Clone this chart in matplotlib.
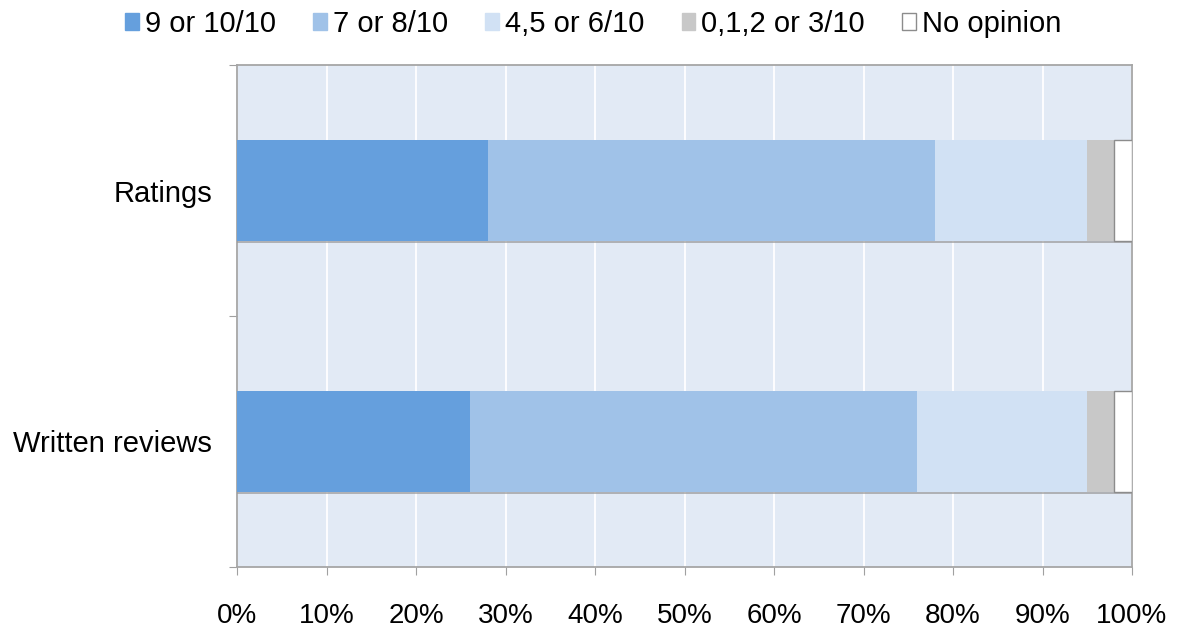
import matplotlib
matplotlib.use("Agg")
import matplotlib.pyplot as plt
import matplotlib.patheffects as pe
from matplotlib.patches import Patch
import numpy as np

plt.rcParams['font.family'] = ['Liberation Sans', 'DejaVu Sans']

categories = ["Ratings", "Written reviews"]
series_names = ["9 or 10/10", "7 or 8/10", "4,5 or 6/10", "0,1,2 or 3/10", "No opinion"]
score_9_10 = [28, 26]
score_7_8 = [50, 50]
score_4_6 = [17, 19]
score_0_3 = [3, 3]
no_opinion = [2, 2]
x_ticks = [0, 10, 20, 30, 40, 50, 60, 70, 80, 90, 100]
x_tick_labels = [f"{v}%" for v in x_ticks]

series = [score_9_10, score_7_8, score_4_6, score_0_3, no_opinion]
colors = ["#659fdd", "#a0c2e8", "#d1e1f4", "#c8c8c8", "#ffffff"]
edges = [None, None, None, None, "#8c8c8c"]

fig = plt.figure(figsize=(11.77, 6.28), dpi=100)
ax = fig.add_axes([237 / 1177, 1 - 567 / 628, (1132 - 237) / 1177, (567 - 65) / 628])
ax.set_facecolor("#e2eaf5")

y = np.arange(len(categories))
left = np.zeros(len(categories))
shadow = [pe.SimplePatchShadow(offset=(0, -2), shadow_rgbFace="#9a9a9a", alpha=0.7), pe.Normal()]
for vals, col, ec in zip(series, colors, edges):
    bars = ax.barh(y, vals, left=left, height=0.4, color=col,
                   edgecolor=ec if ec else col, linewidth=1.0 if ec else 0, zorder=3)
    for b in bars:
        b.set_path_effects(shadow)
    left += np.array(vals)

ax.set_xlim(0, 100)
ax.set_ylim(1.5, -0.5)
ax.set_xticks(x_ticks)
ax.set_xticklabels(x_tick_labels, fontsize=20)
ax.set_yticks([-0.5, 0.5, 1.5])
ax.set_yticklabels([])
ax.set_yticks(y, minor=True)
ax.set_yticklabels(categories, minor=True, fontsize=21)
ax.tick_params(axis="y", which="minor", length=0, pad=18)
ax.tick_params(axis="y", which="major", length=6, color="#a0a0a0")
ax.tick_params(axis="x", length=6, color="#a0a0a0", pad=20)

ax.grid(axis="x", color="white", linewidth=1.3, zorder=1)
ax.set_axisbelow(True)
for s in ax.spines.values():
    s.set_color("#a6a6a6")
    s.set_linewidth(1.3)

handles = [Patch(facecolor=c, edgecolor=(e if e else c), linewidth=1.0) for c, e in zip(colors, edges)]
fig.legend(handles, series_names, loc="center", bbox_to_anchor=(0.504, 0.962), ncol=5,
           frameon=False, fontsize=21, handlelength=0.47, handleheight=0.47,
           handletextpad=0.2, columnspacing=1.28, borderpad=0, borderaxespad=0)

fig.savefig("out.png", dpi=100)
